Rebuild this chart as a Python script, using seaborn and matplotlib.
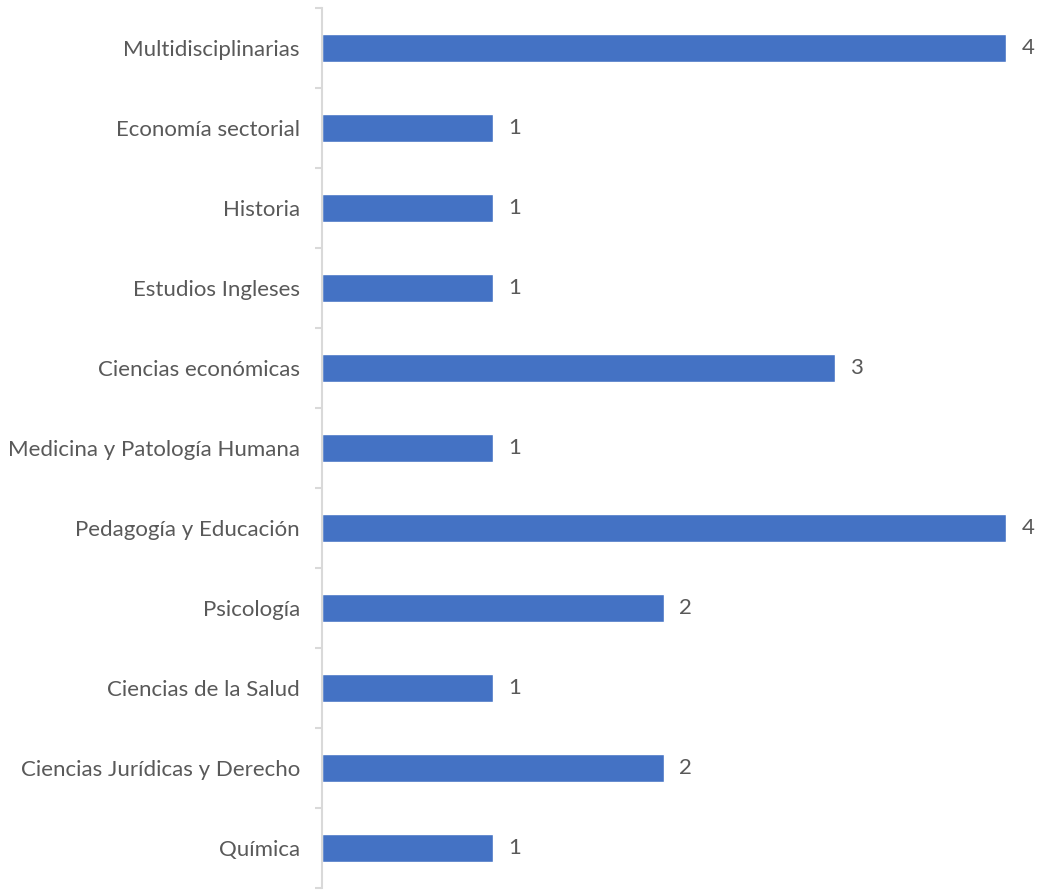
import numpy as np
import pandas as pd
import matplotlib
matplotlib.use("Agg")
import matplotlib.pyplot as plt
import seaborn as sns
from matplotlib.ticker import FixedLocator

categories = [
    "Multidisciplinarias",
    "Economía sectorial",
    "Historia",
    "Estudios Ingleses",
    "Ciencias económicas",
    "Medicina y Patología Humana",
    "Pedagogía y Educación",
    "Psicología",
    "Ciencias de la Salud",
    "Ciencias Jurídicas y Derecho",
    "Química",
]
counts = [4, 1, 1, 1, 3, 1, 4, 2, 1, 2, 1]

df = pd.DataFrame({"area": categories, "n": counts})

sns.set_style("white")
plt.rcParams["font.family"] = ["Lato", "DejaVu Sans"]

fig = plt.figure(figsize=(10.41, 8.90), dpi=100)
ax = fig.add_axes([322 / 1041, 1 - 888 / 890, (1006 - 322) / 1041, 880 / 890])

sns.barplot(data=df, x="n", y="area", orient="h", color="#4472C4",
            saturation=1, width=0.35, ax=ax)

ax.set_xlim(0, 4)
ax.set_ylim(len(categories) - 0.5, -0.5)
ax.set_xlabel("")
ax.set_ylabel("")
ax.set_xticks([])

for side in ["top", "right", "bottom"]:
    ax.spines[side].set_visible(False)
ax.spines["left"].set_color("#D9D9D9")
ax.spines["left"].set_linewidth(1.5)

ax.tick_params(axis="y", which="major", left=True, length=0, pad=16,
               labelsize=16, labelcolor="#595959")
ax.yaxis.set_minor_locator(FixedLocator(np.arange(-0.5, len(categories), 1.0)))
ax.tick_params(axis="y", which="minor", left=True, length=5, width=1.5,
               color="#D9D9D9")

for i, v in enumerate(counts):
    ax.text(v + 0.09, i, str(v), va="center", ha="left", fontsize=16,
            color="#595959", clip_on=False)

fig.savefig("out.png", dpi=100)
